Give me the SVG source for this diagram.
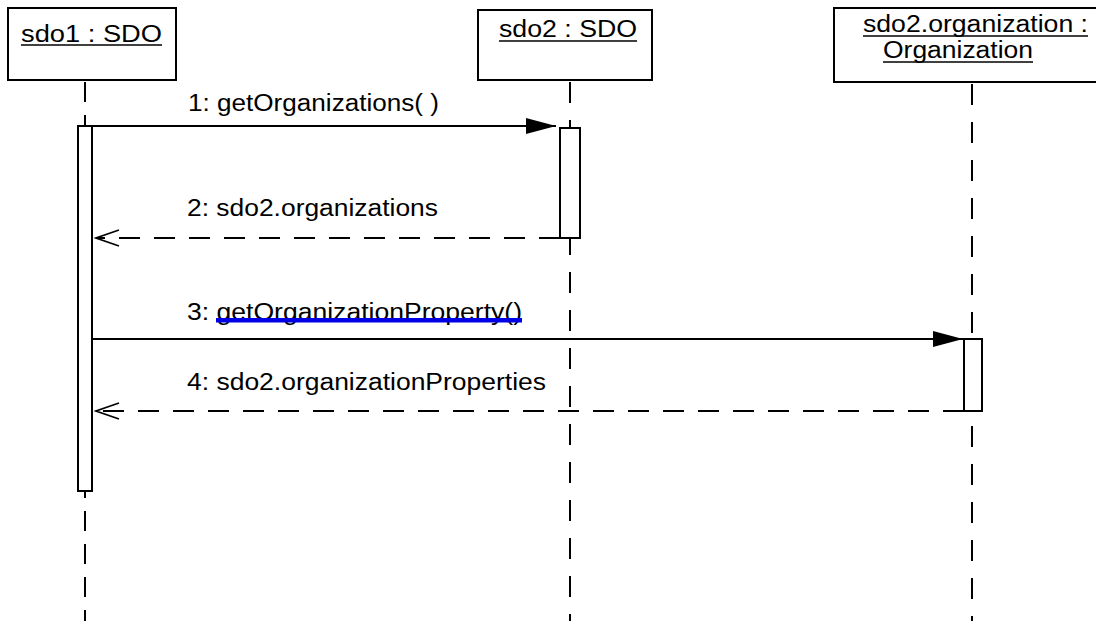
<svg xmlns="http://www.w3.org/2000/svg" width="1096" height="621" viewBox="0 0 1096 621">
  <style>
    .box { fill: #fff; stroke: #000; stroke-width: 2; }
    .life { stroke: #000; stroke-width: 2; stroke-dasharray: 20 13; fill: none; }
    .act { fill: #fff; stroke: #000; stroke-width: 2; }
    .call { stroke: #000; stroke-width: 2; fill: none; }
    .ret { stroke: #000; stroke-width: 2; fill: none; stroke-dasharray: 21 14; }
    .t { font-family: "Liberation Sans", Arial, sans-serif; font-size: 23px; fill: #000; }
    .ul { stroke: #000; stroke-width: 1.6; }
  </style>
  <defs>
    <marker id="solid" markerUnits="userSpaceOnUse" markerWidth="32" markerHeight="18" refX="30" refY="9" orient="auto">
      <path d="M0,1 L30,9 L0,17 Z" fill="#000"/>
    </marker>
    <marker id="open" markerUnits="userSpaceOnUse" markerWidth="26" markerHeight="20" refX="24" refY="10" orient="auto">
      <path d="M1,2 L24,10 L1,18" fill="none" stroke="#000" stroke-width="1.6"/>
    </marker>
  </defs>
  <rect width="1096" height="621" fill="#fff"/>

  <!-- lifelines -->
  <g id="lifelines">
    <line class="life" x1="85" y1="82" x2="85" y2="621"/>
    <line class="life" x1="570" y1="82" x2="570" y2="621" style="stroke-dasharray:21 17"/>
    <line class="life" x1="972" y1="84" x2="972" y2="621" style="stroke-dasharray:21 17"/>
  </g>

  <g id="sdo1">
    <rect class="box" x="8" y="8" width="168" height="72"/>
    <text class="t" x="21" y="42" textLength="141" lengthAdjust="spacingAndGlyphs">sdo1 : SDO</text>
    <line class="ul" x1="21" y1="45" x2="162" y2="45"/>
    <rect class="act" x="78" y="126" width="14" height="365"/>
  </g>

  <g id="sdo2">
    <rect class="box" x="478" y="10" width="174" height="70"/>
    <text class="t" x="499" y="37" textLength="138" lengthAdjust="spacingAndGlyphs">sdo2 : SDO</text>
    <line class="ul" x1="499" y1="41" x2="637" y2="41"/>
    <rect class="act" x="560" y="128" width="20" height="110"/>
  </g>

  <g id="organization">
    <rect class="box" x="834" y="8" width="270" height="74"/>
    <text class="t" x="863" y="32" textLength="225" lengthAdjust="spacingAndGlyphs">sdo2.organization :</text>
    <line class="ul" x1="863" y1="36" x2="1088" y2="36"/>
    <text class="t" x="883" y="58" textLength="150" lengthAdjust="spacingAndGlyphs">Organization</text>
    <line class="ul" x1="883" y1="62" x2="1033" y2="62"/>
    <rect class="act" x="964" y="339" width="18" height="72"/>
  </g>

  <!-- messages -->
  <g id="connectors">
    <line class="call" x1="92" y1="126" x2="556" y2="126" marker-end="url(#solid)"/>
    <text class="t" x="188" y="111" textLength="251" lengthAdjust="spacingAndGlyphs">1: getOrganizations( )</text>

    <line class="ret" x1="560" y1="238" x2="96" y2="238" marker-end="url(#open)"/>
    <text class="t" x="187" y="216" textLength="251" lengthAdjust="spacingAndGlyphs">2: sdo2.organizations</text>

    <line class="call" x1="92" y1="339" x2="963" y2="339" marker-end="url(#solid)"/>
    <text class="t" x="187" y="320" textLength="335" lengthAdjust="spacingAndGlyphs">3: getOrganizationProperty()</text>
    <rect x="216" y="318" width="306" height="4.5" fill="#0000e6"/>

    <line class="ret" x1="964" y1="411" x2="96" y2="411" marker-end="url(#open)"/>
    <text class="t" x="187" y="390" textLength="359" lengthAdjust="spacingAndGlyphs">4: sdo2.organizationProperties</text>
  </g>
</svg>
